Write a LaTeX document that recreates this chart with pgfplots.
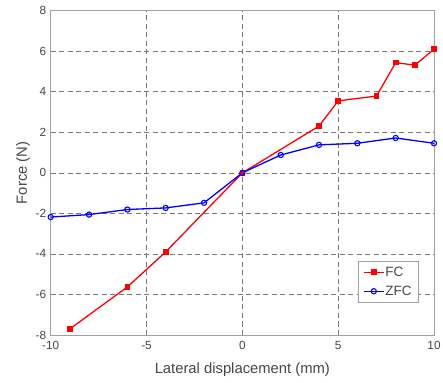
\documentclass[border=0pt]{standalone}
\usepackage{pgfplots}
\pgfplotsset{compat=1.18}
\usepackage{fontspec}
\setmainfont{Liberation Sans}
\definecolor{tickgray}{RGB}{70,70,70}
\definecolor{framegray}{RGB}{160,160,160}
\definecolor{gridgray}{RGB}{120,120,120}
\begin{document}
\begin{tikzpicture}[x=1pt,y=1pt]
\path[use as bounding box] (0,0) rectangle (443,382);
\begin{axis}[
  at={(50.7pt,47pt)}, anchor=south west,
  scale only axis, width=383.3pt, height=324.3pt,
  xmin=-10, xmax=10, ymin=-8, ymax=8,
  xtick={-10,-5,0,5,10}, ytick={-8,-6,-4,-2,0,2,4,6,8},
  major tick length=0pt,
  grid=major,
  major grid style={gridgray, dash pattern=on 5pt off 3.5pt, line width=0.6pt},
  axis line style={framegray, line width=0.8pt},
  tick label style={font=\fontsize{11.8}{13}\selectfont, text=tickgray},
  /pgf/number format/assume math mode=true,
  xticklabel style={yshift=-3pt},
  yticklabel style={xshift=-1pt},
  label style={font=\fontsize{14.8}{16}\selectfont, text=tickgray},
  xlabel={Lateral displacement (mm)},
  ylabel={Force (N)},
  xlabel style={at={(axis description cs:0.5,-0.108)}, anchor=center},
  ylabel style={at={(axis description cs:-0.072,0.5)}, anchor=center, rotate=0},
  legend style={at={(axis description cs:0.958,0.099)}, anchor=south east,
    draw=framegray, font=\fontsize{13.5}{15}\selectfont, text=tickgray,
    row sep=4pt, inner xsep=5pt, inner ysep=4pt,
    nodes={inner xsep=1pt}},
  legend cell align=left,
  legend image code/.code={
    \draw[mark repeat=2,mark phase=2,#1] plot coordinates {(0pt,0pt) (10pt,0pt) (20pt,0pt)};
  },
]
\addplot[red, line width=1.3pt, mark=square*, mark size=2.2pt, mark options={solid}] coordinates {
(-9,-7.70) (-6,-5.63) (-4,-3.90) (0,0) (4,2.31) (5,3.55) (7,3.79) (8,5.44) (9,5.31) (10,6.10)
};
\addlegendentry{FC}
\addplot[blue, line width=1.3pt, mark=o, mark size=2.6pt, mark options={solid, line width=1.1pt}] coordinates {
(-10,-2.18) (-8,-2.06) (-6,-1.81) (-4,-1.73) (-2,-1.48) (0,0) (2,0.88) (4,1.38) (6,1.46) (8,1.72) (10,1.46)
};
\addlegendentry{ZFC}
\end{axis}
\end{tikzpicture}
\end{document}
